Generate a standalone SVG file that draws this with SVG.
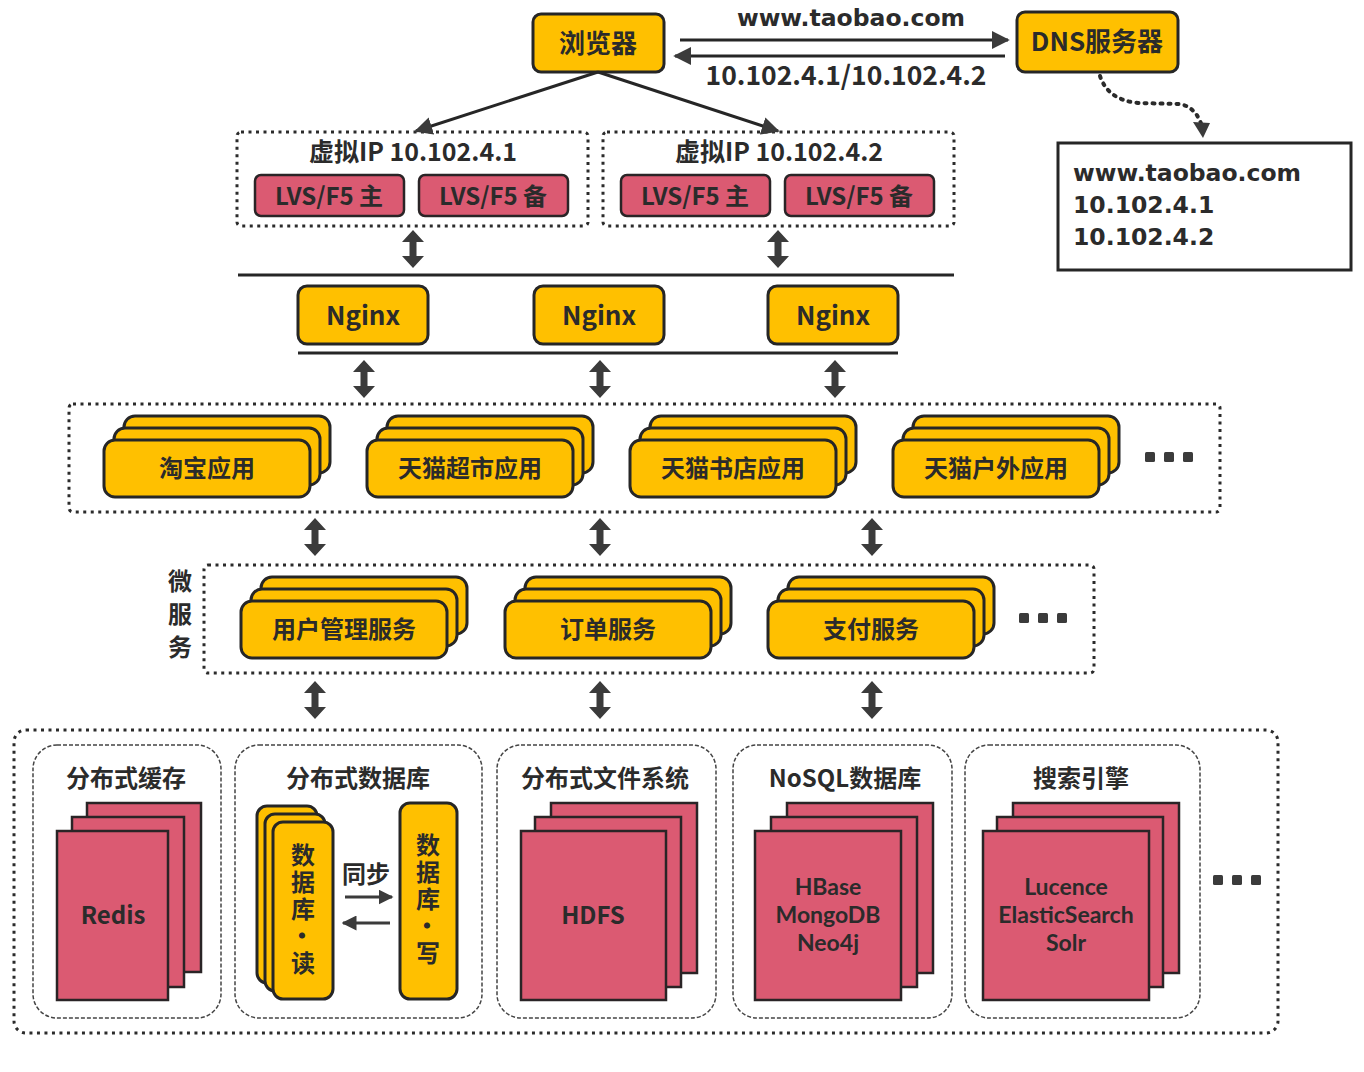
<svg xmlns="http://www.w3.org/2000/svg" width="1364" height="1072" viewBox="0 0 1364 1072">
<style>
text{font-family:"Noto Sans CJK SC","Noto Sans",sans-serif;fill:#2b2b2b;font-weight:700}
.c{text-anchor:middle}
.y{fill:#FFC000;stroke:#262626;stroke-width:3}
.r{fill:#DB5A72;stroke:#2a2426;stroke-width:2.5}
.dot{fill:none;stroke:#2b2b2b;stroke-width:3;stroke-dasharray:3 4.5}
.dash{fill:#fff;stroke:#444;stroke-width:1.5;stroke-dasharray:4 2}
.ln{stroke:#262626;stroke-width:3;fill:none}
.dk{fill:#3b3b3b}
.t26{font-size:26px}
.t24{font-size:24px}
.v{writing-mode:vertical-rl;text-anchor:middle;font-size:24px;letter-spacing:3px}
.m{font-family:Lato,"Liberation Sans",sans-serif;font-size:23px;font-weight:700;text-anchor:middle}
.dv{font-family:"DejaVu Sans",sans-serif;font-size:23.5px;font-weight:700}
</style>
<defs>
<marker id="ah" viewBox="0 0 10 10" refX="9" refY="5" markerWidth="6" markerHeight="6" markerUnits="strokeWidth" orient="auto"><path d="M0,0 L10,5 L0,10 Z" fill="#3b3b3b"/></marker>
<marker id="ah2" viewBox="0 0 10 10" refX="9" refY="5" markerWidth="5" markerHeight="5" markerUnits="strokeWidth" orient="auto"><path d="M0,0 L10,5 L0,10 Z" fill="#3b3b3b"/></marker>
<path id="dbl" d="M0,0 L11,12 L3.5,12 L3.5,26 L11,26 L0,38 L-11,26 L-3.5,26 L-3.5,12 L-11,12 Z"/>
<g id="ell"><rect x="0" y="0" width="10" height="10" rx="1.5"/><rect x="19" y="0" width="10" height="10" rx="1.5"/><rect x="38" y="0" width="10" height="10" rx="1.5"/></g>
</defs>
<rect width="1364" height="1072" fill="#fff"/>

<text class="c dv" x="851" y="26">www.taobao.com</text>
<text class="c" x="846" y="85" style="font-size:26.5px">10.102.4.1/10.102.4.2</text>

<g id="browser"><rect class="y" x="533" y="14" width="131" height="58" rx="8"/><text class="c t26" x="598" y="53">浏览器</text></g>
<g id="dns"><rect class="y" x="1017" y="12" width="161" height="60" rx="8"/><text class="c t26" x="1097" y="51">DNS服务器</text></g>
<g id="dns-record"><rect x="1058" y="143" width="293" height="127" fill="#fff" stroke="#262626" stroke-width="3"/>
<text class="dv" x="1073" y="181">www.taobao.com</text>
<text class="dv" x="1073" y="213">10.102.4.1</text>
<text class="dv" x="1073" y="245">10.102.4.2</text></g>

<g id="vip1"><rect class="dot" x="237" y="132" width="351" height="94" rx="4"/><text class="c" x="413" y="161" style="font-size:25px">虚拟IP 10.102.4.1</text>
<rect class="r" x="255" y="175" width="149" height="41" rx="6"/><text class="c t24" x="329" y="205">LVS/F5 主</text>
<rect class="r" x="419" y="175" width="149" height="41" rx="6"/><text class="c t24" x="493" y="205">LVS/F5 备</text></g>
<g id="vip2"><rect class="dot" x="603" y="132" width="351" height="94" rx="4"/><text class="c" x="779" y="161" style="font-size:25px">虚拟IP 10.102.4.2</text>
<rect class="r" x="621" y="175" width="149" height="41" rx="6"/><text class="c t24" x="695" y="205">LVS/F5 主</text>
<rect class="r" x="785" y="175" width="149" height="41" rx="6"/><text class="c t24" x="859" y="205">LVS/F5 备</text></g>

<g id="nginx1"><rect class="y" x="298" y="286" width="130" height="58" rx="9"/><text class="c t26" x="363" y="325">Nginx</text></g>
<g id="nginx2"><rect class="y" x="534" y="286" width="130" height="58" rx="9"/><text class="c t26" x="599" y="325">Nginx</text></g>
<g id="nginx3"><rect class="y" x="768" y="286" width="130" height="58" rx="9"/><text class="c t26" x="833" y="325">Nginx</text></g>

<g id="apps"><rect class="dot" x="69" y="404" width="1151" height="108" rx="4"/>
<g id="app-taobao"><rect class="y" x="124" y="416" width="206" height="57" rx="11"/><rect class="y" x="114" y="428" width="206" height="57" rx="11"/><rect class="y" x="104" y="440" width="206" height="57" rx="11"/><text class="c t24" x="207" y="477">淘宝应用</text></g>
<g id="app-chaoshi"><rect class="y" x="387" y="416" width="206" height="57" rx="11"/><rect class="y" x="377" y="428" width="206" height="57" rx="11"/><rect class="y" x="367" y="440" width="206" height="57" rx="11"/><text class="c t24" x="470" y="477">天猫超市应用</text></g>
<g id="app-shudian"><rect class="y" x="650" y="416" width="206" height="57" rx="11"/><rect class="y" x="640" y="428" width="206" height="57" rx="11"/><rect class="y" x="630" y="440" width="206" height="57" rx="11"/><text class="c t24" x="733" y="477">天猫书店应用</text></g>
<g id="app-huwai"><rect class="y" x="913" y="416" width="206" height="57" rx="11"/><rect class="y" x="903" y="428" width="206" height="57" rx="11"/><rect class="y" x="893" y="440" width="206" height="57" rx="11"/><text class="c t24" x="996" y="477">天猫户外应用</text></g>
<use href="#ell" x="1145" y="452" class="dk"/></g>

<g id="micro"><rect class="dot" x="204" y="565" width="890" height="108" rx="4"/>
<text class="v" x="180" y="618" style="letter-spacing:9px">微服务</text>
<g id="svc-user"><rect class="y" x="261" y="577" width="206" height="57" rx="11"/><rect class="y" x="251" y="589" width="206" height="57" rx="11"/><rect class="y" x="241" y="601" width="206" height="57" rx="11"/><text class="c t24" x="344" y="638">用户管理服务</text></g>
<g id="svc-order"><rect class="y" x="525" y="577" width="206" height="57" rx="11"/><rect class="y" x="515" y="589" width="206" height="57" rx="11"/><rect class="y" x="505" y="601" width="206" height="57" rx="11"/><text class="c t24" x="608" y="638">订单服务</text></g>
<g id="svc-pay"><rect class="y" x="788" y="577" width="206" height="57" rx="11"/><rect class="y" x="778" y="589" width="206" height="57" rx="11"/><rect class="y" x="768" y="601" width="206" height="57" rx="11"/><text class="c t24" x="871" y="638">支付服务</text></g>
<use href="#ell" x="1019" y="613" class="dk"/></g>

<g id="storage"><rect class="dot" x="14" y="730" width="1264" height="303" rx="12"/>
<g id="cache"><rect class="dash" x="33" y="745" width="188" height="273" rx="24"/><text class="c t24" x="126" y="787">分布式缓存</text>
<rect class="r" x="87" y="803" width="114" height="169"/><rect class="r" x="72" y="817" width="112" height="170"/><rect class="r" x="57" y="831" width="111" height="169"/>
<text class="c t24" x="113" y="924">Redis</text></g>
<g id="db"><rect class="dash" x="235" y="745" width="247" height="273" rx="24"/><text class="c t24" x="358" y="787">分布式数据库</text>
<rect class="y" x="257" y="806" width="60" height="177" rx="10"/><rect class="y" x="265" y="814" width="60" height="177" rx="10"/><rect class="y" x="273" y="822" width="60" height="177" rx="10"/>
<text class="v" x="303" y="910">数据库·读</text>
<rect class="y" x="400" y="803" width="57" height="196" rx="10"/>
<text class="v" x="428" y="900">数据库·写</text>
<text class="c t24" x="366" y="883">同步</text></g>
<g id="fs"><rect class="dash" x="497" y="745" width="219" height="273" rx="24"/><text class="c t24" x="605" y="787">分布式文件系统</text>
<rect class="r" x="551" y="803" width="146" height="170"/><rect class="r" x="535" y="817" width="146" height="170"/><rect class="r" x="521" y="831" width="145" height="169"/>
<text class="c t24" x="593" y="924">HDFS</text></g>
<g id="nosql"><rect class="dash" x="733" y="745" width="219" height="273" rx="24"/><text class="c t24" x="845" y="787">NoSQL数据库</text>
<rect class="r" x="787" y="803" width="146" height="170"/><rect class="r" x="771" y="817" width="146" height="170"/><rect class="r" x="755" y="831" width="146" height="169"/>
<text class="m" x="828" y="895">HBase</text><text class="m" x="828" y="923">MongoDB</text><text class="m" x="828" y="951">Neo4j</text></g>
<g id="search"><rect class="dash" x="965" y="745" width="235" height="273" rx="24"/><text class="c t24" x="1081" y="787">搜索引擎</text>
<rect class="r" x="1013" y="803" width="166" height="170"/><rect class="r" x="997" y="817" width="166" height="170"/><rect class="r" x="983" y="831" width="166" height="169"/>
<text class="m" x="1066" y="895">Lucence</text><text class="m" x="1066" y="923">ElasticSearch</text><text class="m" x="1066" y="951">Solr</text></g>
<use href="#ell" x="1213" y="875" class="dk"/></g>

<g id="connectors">
<line class="ln" x1="680" y1="40" x2="1008" y2="40" marker-end="url(#ah)"/>
<line class="ln" x1="1005" y1="56" x2="675" y2="56" marker-end="url(#ah)"/>
<line class="ln" x1="598" y1="72" x2="416" y2="131" marker-end="url(#ah)"/>
<line class="ln" x1="598" y1="72" x2="778" y2="131" marker-end="url(#ah)"/>
<path d="M1100,76 Q1108,100 1138,103 L1180,104 Q1200,108 1204,136" fill="none" stroke="#2b2b2b" stroke-width="4" stroke-dasharray="2 6" stroke-linecap="round"/>
<path d="M1193,122 L1210,123 L1203,138 Z" fill="#3b3b3b"/>
<line class="ln" x1="238" y1="275" x2="954" y2="275"/>
<line class="ln" x1="298" y1="353" x2="898" y2="353"/>
<g class="dk">
<use href="#dbl" x="413" y="230"/><use href="#dbl" x="778" y="230"/>
<use href="#dbl" x="364" y="360"/><use href="#dbl" x="600" y="360"/><use href="#dbl" x="835" y="360"/>
<use href="#dbl" x="315" y="518"/><use href="#dbl" x="600" y="518"/><use href="#dbl" x="872" y="518"/>
<use href="#dbl" x="315" y="681"/><use href="#dbl" x="600" y="681"/><use href="#dbl" x="872" y="681"/>
</g>
<line x1="345" y1="897" x2="392" y2="897" stroke="#3b3b3b" stroke-width="3" marker-end="url(#ah2)"/>
<line x1="390" y1="923" x2="343" y2="923" stroke="#3b3b3b" stroke-width="3" marker-end="url(#ah2)"/>
</g>
</svg>
